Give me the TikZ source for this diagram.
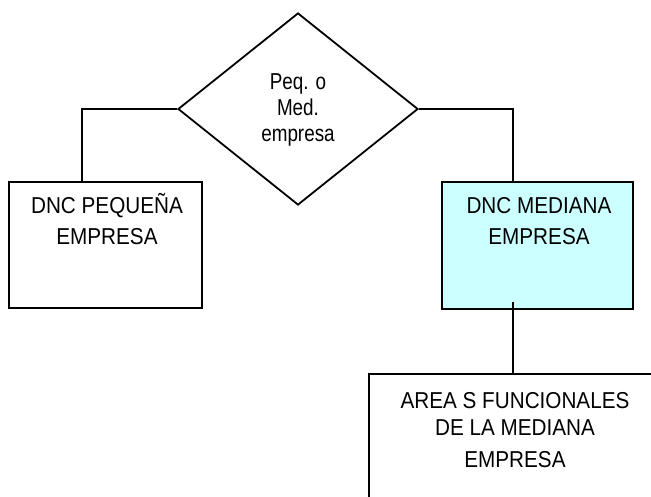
\documentclass[tikz,border=0pt]{standalone}
\usepackage{fontspec}
\setmainfont{Liberation Sans}[FakeStretch=0.9]
\newfontfamily\narrowsans{Liberation Sans}[FakeStretch=0.82]
\usetikzlibrary{shapes.geometric}
\definecolor{palecyan}{HTML}{CCFFFF}
\tikzset{
  edge/.style={draw=black, line width=1.8pt},
  boxnode/.style={draw=black, line width=1.8pt, rectangle, inner sep=0pt},
  decision/.style={draw=black, line width=1.8pt, diamond, inner sep=0pt, minimum width=240pt, minimum height=192pt},
  label/.style={align=center, inner sep=0pt, anchor=base}
}
\begin{document}
\begin{tikzpicture}[x=1pt, y=-1pt]
  \useasboundingbox (0,0) rectangle (651,497);
  \clip (0,0) rectangle (651,497);

  % shapes
  \node[decision] (dia) at (298,109) {};
  \node[boxnode, minimum width=193pt, minimum height=126pt] (peq) at (105.5,245) {};
  \node[boxnode, fill=palecyan, minimum width=191pt, minimum height=127pt] (med) at (537.5,245.5) {};
  % functional areas box, running past the lower right corner
  \node[boxnode, minimum width=331pt, minimum height=186pt] (area) at (534.5,467) {};

  % connectors
  \draw[edge] (dia.west) -| ([xshift=-23.5pt]peq.north);
  \draw[edge] (dia.east) -| ([xshift=-24.5pt]med.north);
  \coordinate (tap) at (513,302);
  \draw[edge] (tap) -- (tap |- area.north);

  % texts (anchored on the baseline of their last line)
  \node[label, font=\narrowsans\fontsize{23}{26}\selectfont] (diatxt) at (298,142) {Peq. o\\Med.\\empresa};
  \node[label, font=\fontsize{23}{32}\selectfont] (peqtxt) at (107,245) {DNC PEQUEÑA\\EMPRESA};
  \node[label, font=\fontsize{23}{32}\selectfont] (medtxt) at (539,245) {DNC MEDIANA\\EMPRESA};
  \node[label, font=\fontsize{23}{27}\selectfont] (areatxt) at (515,467) {AREA S FUNCIONALES\\DE LA MEDIANA\\[5pt]EMPRESA};
\end{tikzpicture}
\end{document}
